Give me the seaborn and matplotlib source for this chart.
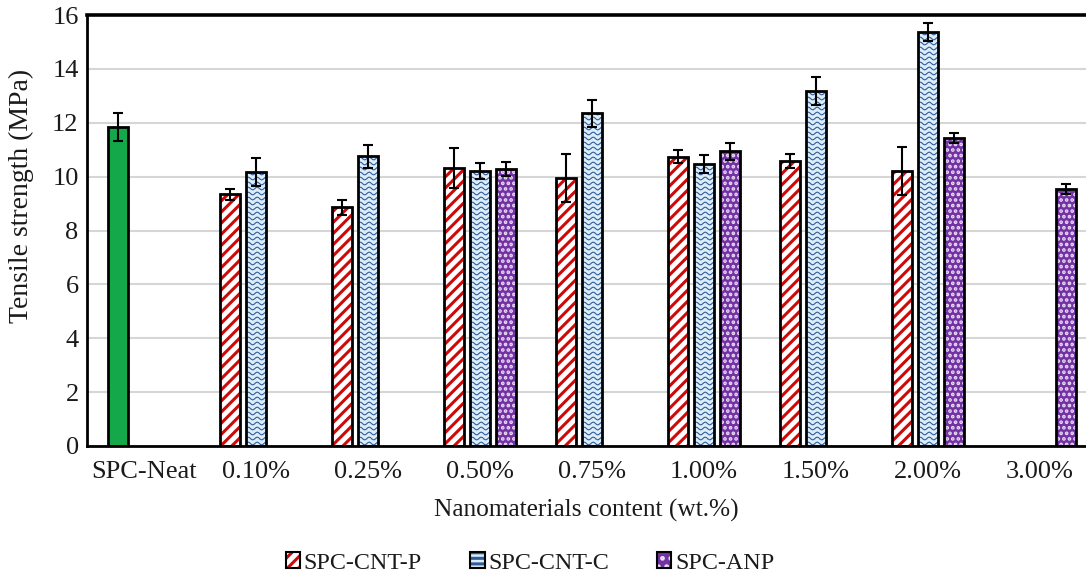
import numpy as np
import pandas as pd
import matplotlib
matplotlib.use("Agg")
import matplotlib.pyplot as plt
import seaborn as sns
from matplotlib.patches import Rectangle, Patch
from matplotlib.legend_handler import HandlerTuple

# ---- data -------------------------------------------------------------
categories = ["SPC-Neat", "0.10%", "0.25%", "0.50%", "0.75%",
              "1.00%", "1.50%", "2.00%", "3.00%"]

neat_labels = ["SPC-Neat"]
neat_values = [11.85]
neat_errors = [0.52]

cnt_p_labels = ["0.10%", "0.25%", "0.50%", "0.75%", "1.00%", "1.50%", "2.00%"]
cnt_p_values = [9.35, 8.86, 10.31, 9.96, 10.74, 10.58, 10.22]
cnt_p_errors = [0.20, 0.27, 0.75, 0.89, 0.24, 0.26, 0.89]

cnt_c_labels = ["0.10%", "0.25%", "0.50%", "0.75%", "1.00%", "1.50%", "2.00%"]
cnt_c_values = [10.18, 10.76, 10.22, 12.36, 10.47, 13.19, 15.38]
cnt_c_errors = [0.51, 0.43, 0.30, 0.50, 0.33, 0.52, 0.33]

anp_labels = ["0.50%", "1.00%", "2.00%", "3.00%"]
anp_values = [10.29, 10.94, 11.43, 9.54]
anp_errors = [0.25, 0.32, 0.20, 0.17]

y_ticks = [0, 2, 4, 6, 8, 10, 12, 14, 16]

# ---- style ------------------------------------------------------------
sns.set_theme(style="white")
plt.rcParams["font.family"] = ["Liberation Serif", "DejaVu Serif"]
plt.rcParams["hatch.linewidth"] = 2.2

TEXT = "#1A1A1A"
W, H = 1086, 577
fig = plt.figure(figsize=(W / 100, H / 100), dpi=100)
ax_left, ax_right, ax_top, ax_bottom = 87, 1086, 15, 446
ax = fig.add_axes([ax_left / W, 1 - ax_bottom / H,
                   (ax_right - ax_left) / W, (ax_bottom - ax_top) / H])

x_min, x_max = -0.509, 8.41
ax.set_xlim(x_min, x_max)
ax.set_ylim(0, 16)

bar_w = 0.18
step = 0.233

series = [
    # name, labels, values, errors, offset, face, hatch, hatch colour, hatch width
    ("SPC-Neat", neat_labels, neat_values, neat_errors, -step, "#14A84A", None, "#14A84A", 1),
    ("SPC-CNT-P", cnt_p_labels, cnt_p_values, cnt_p_errors, -step, "white", "///", "#CC0A0A", 2.2),
    ("SPC-CNT-C", cnt_c_labels, cnt_c_values, cnt_c_errors, 0.0, "#DCEDF8", None, "#DCEDF8", 1),
    ("SPC-ANP", anp_labels, anp_values, anp_errors, step, "#7232A3", "...", "#EBDDF5", 1.8),
]

layers = {}
for name, labels, values, errors, off, face, hatch, hcol, hlw in series:
    pos = [categories.index(c) + off for c in labels]
    df = pd.DataFrame({"pos": pos, "value": values})
    before = len(ax.patches)
    sns.barplot(data=df, x="pos", y="value", native_scale=True, width=bar_w,
                color=face, saturation=1, errorbar=None, ax=ax, zorder=2)
    new = ax.patches[before:]
    for p in new:
        p.set_facecolor(face)
        p.set_edgecolor(hcol)
        p.set_linewidth(0)
        if hatch:
            p.set_hatch(hatch)
            if hasattr(p, "set_hatch_linewidth"):
                p.set_hatch_linewidth(hlw)
    layers[name] = (new, pos, values, errors)

ax.set_xlim(x_min, x_max)
ax.set_ylim(0, 16)

# wavy texture on the SPC-CNT-C bars
ux = (x_max - x_min) / (ax_right - ax_left)   # data units per pixel (x)
uy = 16 / (ax_bottom - ax_top)                # data units per pixel (y)
period, amp, row_gap = 9 * ux, 1.3 * uy, 5 * uy
for p in layers["SPC-CNT-C"][0]:
    x0, w, h = p.get_x(), p.get_width(), p.get_height()
    xs = np.linspace(x0, x0 + w, 80)
    for yy in np.arange(row_gap / 2, h, row_gap):
        ln, = ax.plot(xs, yy + amp * np.sin(2 * np.pi * (xs - x0) / period),
                      color="#2F5C9A", lw=0.8, zorder=2.5)
        ln.set_clip_path(p)

# outlines and error bars
for name, (patches, pos, values, errors) in layers.items():
    for p in patches:
        ax.add_patch(Rectangle((p.get_x(), p.get_y()), p.get_width(), p.get_height(),
                               fill=False, edgecolor="black", lw=2.0, zorder=3))
    ax.errorbar(pos, values, yerr=errors, fmt="none", ecolor="black",
                elinewidth=1.5, capsize=3.8, capthick=1.5, zorder=4)

# axes decoration
ax.set_yticks(y_ticks)
ax.set_xticks(range(len(categories)))
ax.set_xticklabels(categories)
ax.tick_params(axis="both", length=0, labelsize=19, colors=TEXT)
ax.tick_params(axis="x", pad=11)
ax.tick_params(axis="y", pad=6)
ax.yaxis.grid(True, color="#D6D6D6", lw=1.5, zorder=0)
ax.xaxis.grid(False)
ax.set_axisbelow(True)
for side in ["left", "bottom", "top"]:
    ax.spines[side].set_visible(True)
    ax.spines[side].set_color("black")
    ax.spines[side].set_linewidth(2.0)
ax.spines["top"].set_linewidth(2.6)
ax.spines["right"].set_visible(False)

ax.set_xlabel("Nanomaterials content (wt.%)", fontsize=18.3, color=TEXT, labelpad=11)
ax.set_ylabel("Tensile strength (MPa)", fontsize=20, color=TEXT)
ax.yaxis.set_label_coords(-0.053, 0.58)

# legend
def handle(face, hatch, hcol):
    base = Patch(facecolor=face, edgecolor=hcol, hatch=hatch, lw=0)
    edge = Patch(facecolor="none", edgecolor="black", lw=1.5)
    return (base, edge)

handles = [handle("white", "///", "#CC0A0A"),
           handle("#DCEDF8", "---", "#2F5C9A"),
           handle("#7232A3", "..", "#EBDDF5")]
fig.legend(handles, ["SPC-CNT-P", "SPC-CNT-C", "SPC-ANP"],
           handler_map={tuple: HandlerTuple(ndivide=1)},
           loc="center", bbox_to_anchor=(530 / W, 1 - 563 / H), ncol=3,
           frameon=False, fontsize=17.3, handlelength=0.6, handleheight=0.6,
           handletextpad=0.15, columnspacing=2.0, labelcolor=TEXT)

fig.savefig("out.png", dpi=100)
